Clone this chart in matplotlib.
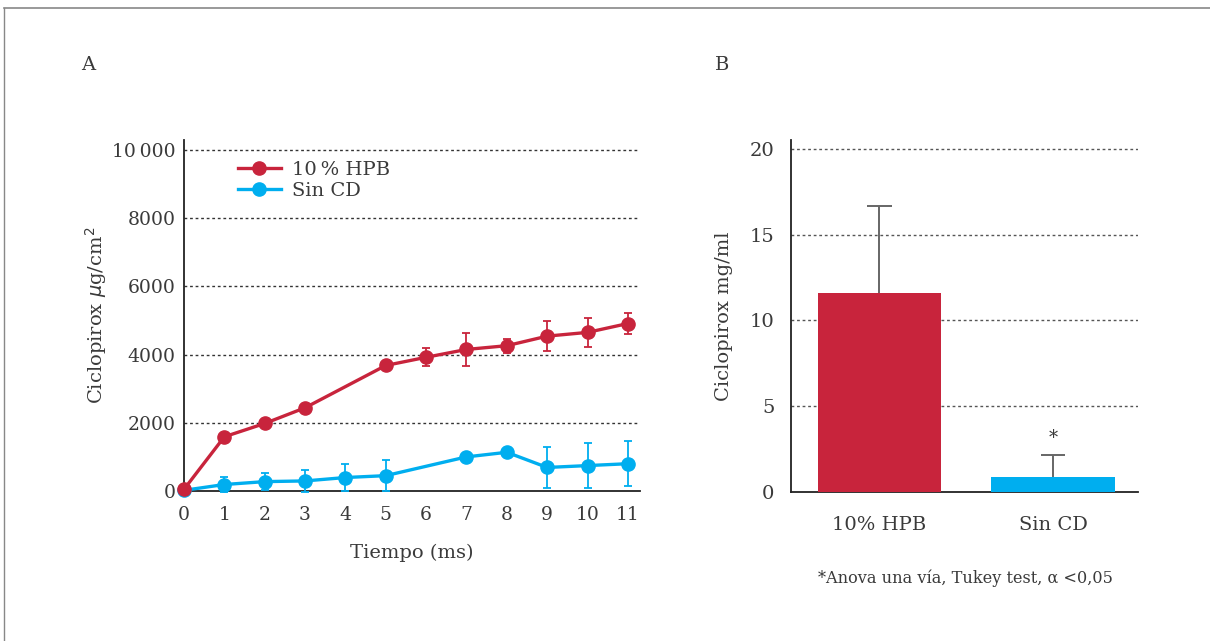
import matplotlib
matplotlib.use("Agg")
import matplotlib.pyplot as plt
from matplotlib.lines import Line2D

# ---- data ----
red_x = [0, 1, 2, 3, 5, 6, 7, 8, 9, 10, 11]
red_y = [50, 1590, 1980, 2440, 3680, 3920, 4150, 4260, 4540, 4650, 4910]
red_err = [0, 0, 0, 0, 0, 270, 480, 210, 430, 420, 300]

blue_x = [0, 1, 2, 3, 4, 5, 7, 8, 9, 10, 11]
blue_y = [20, 190, 275, 295, 395, 450, 1000, 1135, 690, 745, 800]
blue_err = [0, 230, 260, 320, 390, 460, 0, 0, 610, 650, 660]

x_ticks = list(range(12))
y_ticks_a = [0, 2000, 4000, 6000, 8000, 10000]
y_ticklabels_a = ["0", "2000", "4000", "6000", "8000", "10\u2009000"]

bar_labels = ["10% HPB", "Sin CD"]
bar_values = [11.6, 0.85]
bar_err = [5.1, 1.3]
y_ticks_b = [0, 5, 10, 15, 20]

RED = "#C8243C"
BLUE = "#00AEEF"
TXT = "#3a3a3a"

plt.rcParams['font.family'] = ['DejaVu Serif']

fig = plt.figure(figsize=(12.10, 6.41), dpi=100)
W, H = 1210, 641

def ax_rect(l, r, t, b):
    return [l / W, 1 - b / H, (r - l) / W, (b - t) / H]

# frame lines
fig.add_artist(Line2D([4 / W, 1], [1 - 8 / H, 1 - 8 / H], color="#888888", lw=1.2))
fig.add_artist(Line2D([4 / W, 4 / W], [0, 1 - 8 / H], color="#888888", lw=1.0))

# ---- panel A ----
ax = fig.add_axes(ax_rect(184, 640, 140, 491))
ax.set_xlim(0, 11.3)
ax.set_ylim(0, 10290)
for yv in y_ticks_a[1:]:
    ax.axhline(yv, color="#333333", lw=1.0, ls=(0, (2, 2)), zorder=1)

ax.errorbar(blue_x, blue_y, yerr=blue_err, color=BLUE, lw=2.4, marker="o", ms=9.5,
            elinewidth=1.3, capsize=3, capthick=1.3, zorder=3, clip_on=False)
ax.errorbar(red_x, red_y, yerr=red_err, color=RED, lw=2.4, marker="o", ms=9.5,
            elinewidth=1.3, capsize=3, capthick=1.3, zorder=4, clip_on=False)

for s in ["top", "right"]:
    ax.spines[s].set_visible(False)
for s in ["left", "bottom"]:
    ax.spines[s].set_color("#222222")
    ax.spines[s].set_linewidth(1.3)
ax.set_xticks(x_ticks)
ax.set_xticklabels([str(v) for v in x_ticks], fontsize=13.5, color=TXT)
ax.set_yticks(y_ticks_a)
ax.set_yticklabels(y_ticklabels_a, fontsize=13.5, color=TXT)
ax.tick_params(axis="x", length=0, pad=11)
ax.tick_params(axis="y", length=0, pad=6)
ax.set_xlabel("Tiempo (ms)", fontsize=14, color=TXT, labelpad=14)
ax.set_ylabel("Ciclopirox $\\mu$g/cm$^2$", fontsize=14, color=TXT, labelpad=2)

handles = [Line2D([], [], color=RED, lw=2.4, marker="o", ms=9.5),
           Line2D([], [], color=BLUE, lw=2.4, marker="o", ms=9.5)]
leg = ax.legend(handles, ["10\u2009% HPB", "Sin CD"], loc="upper left",
                bbox_to_anchor=(0.08, 0.99), frameon=False, fontsize=14,
                handlelength=2.2, handletextpad=0.6, labelspacing=0.15)
for t in leg.get_texts():
    t.set_color(TXT)

fig.text(88 / W, 1 - 65 / H, "A", fontsize=14, color=TXT, ha="center", va="center")

# ---- panel B ----
bx = fig.add_axes(ax_rect(791, 1138, 140, 492))
bx.set_xlim(-0.51, 1.49)
bx.set_ylim(0, 20.52)
for yv in y_ticks_b[1:]:
    bx.axhline(yv, color="#555555", lw=1.0, ls=(0, (2, 2)), zorder=1)
bar_x = [0, 1]
bx.bar(bar_x, bar_values, width=0.71, color=[RED, BLUE], zorder=3)
tops = [v + e for v, e in zip(bar_values, bar_err)]
bx.vlines(bar_x, bar_values, tops, color="#666666", lw=1.4, zorder=2)
bx.hlines(tops, [x - 0.07 for x in bar_x], [x + 0.07 for x in bar_x],
          color="#666666", lw=1.4, zorder=2)
bx.text(1, tops[1] + 1.0, "*", ha="center", va="center", fontsize=13, color=TXT)
for s in ["top", "right"]:
    bx.spines[s].set_visible(False)
for s in ["left", "bottom"]:
    bx.spines[s].set_color("#222222")
    bx.spines[s].set_linewidth(1.3)
bx.set_xticks(bar_x)
bx.set_xticklabels(bar_labels, fontsize=14, color=TXT)
bx.set_yticks(y_ticks_b)
bx.set_yticklabels([str(v) for v in y_ticks_b], fontsize=14, color=TXT)
bx.tick_params(axis="x", length=0, pad=17)
bx.tick_params(axis="y", length=0, pad=12)
bx.set_ylabel("Ciclopirox mg/ml", fontsize=14, color=TXT, labelpad=12)

fig.text(722 / W, 1 - 65 / H, "B", fontsize=14, color=TXT, ha="center", va="center")
fig.text(965 / W, 1 - 578 / H, "*Anova una vía, Tukey test, \u03b1 <0,05",
         fontsize=11.6, color=TXT, ha="center", va="center")

fig.savefig("out.png", dpi=100, facecolor="white")
